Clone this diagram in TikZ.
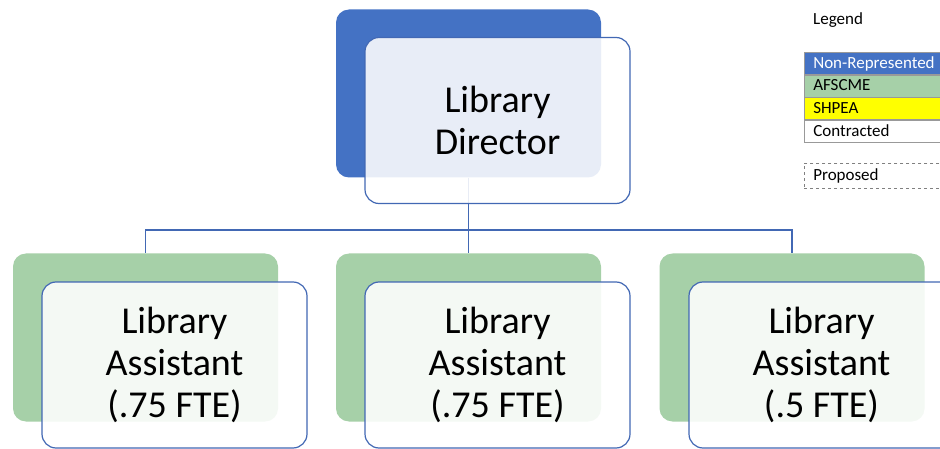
\documentclass[tikz,border=0pt]{standalone}
\usepackage{fontspec}
\setmainfont{Carlito}
\usepackage{tikz}
\usetikzlibrary{positioning}
\definecolor{dirblue}{RGB}{68,114,196}
\definecolor{edgeblue}{RGB}{66,104,180}
\definecolor{afsgreen}{RGB}{166,208,168}
\definecolor{shpyellow}{RGB}{255,255,0}

\begin{document}
\begin{tikzpicture}[x=1pt,y=-1pt,
    backbox/.style={rectangle,rounded corners=13pt,minimum width=265pt,minimum height=168pt,inner sep=0pt},
    frontbox/.style={rectangle,rounded corners=14pt,draw=edgeblue,line width=1.2pt,fill=white,fill opacity=0.88,text opacity=1,
        minimum width=265pt,minimum height=166pt,align=center,font=\fontsize{38}{42}\selectfont},
    conn/.style={draw=edgeblue,line width=1.3pt},
    legrow/.style={rectangle,draw=gray!80,line width=0.6pt,text width=130pt,inner xsep=9pt,inner ysep=0pt,
        minimum height=22pt,text height=13pt,text depth=3pt,anchor=north west,font=\fontsize{17}{19}\selectfont}]
    \useasboundingbox (0,0) rectangle (940,449);
    \clip (0,0) rectangle (940,449);

    % back boxes
    \node[backbox,fill=dirblue] (dirback) at (468.5,93.5) {};
    \node[backbox,fill=afsgreen] (la1back) at (145.5,337.5) {};
    \node[backbox,fill=afsgreen] (la2back) at (468.5,337.5) {};
    \node[backbox,fill=afsgreen] (la3back) at (792,337.5) {};

    % connectors
    \coordinate (bus) at (468.5,230);
    \draw[conn] (dirback.south) -- (bus) -| (la1back.north);
    \draw[conn] (bus) -| (la3back.north);
    \draw[conn] (bus) -- (la2back.north);

    % front boxes
    \node[frontbox] (dir) at (497.5,120.5) {Library\\Director};
    \node[frontbox] (la1) at (174.5,365) {Library\\Assistant\\(.75 FTE)};
    \node[frontbox] (la2) at (497.5,365) {Library\\Assistant\\(.75 FTE)};
    \node[frontbox] (la3) at (821.5,365) {Library\\Assistant\\(.5 FTE)};

    % legend
    \node[anchor=west,inner sep=0pt,font=\fontsize{17}{19}\selectfont] (legend) at (813,20) {Legend};
    \node[legrow,fill=dirblue,text=white] (nonrep) at (804,52) {Non-Represented};
    \node[legrow,fill=afsgreen,below=0pt of nonrep] (afscme) {AFSCME};
    \node[legrow,fill=shpyellow,below=0pt of afscme] (shpea) {SHPEA};
    \node[legrow,fill=white,below=0pt of shpea] (contr) {Contracted};
    \node[legrow,dashed,draw=gray,minimum height=25pt] (prop) at (804,163) {Proposed};
\end{tikzpicture}
\end{document}
